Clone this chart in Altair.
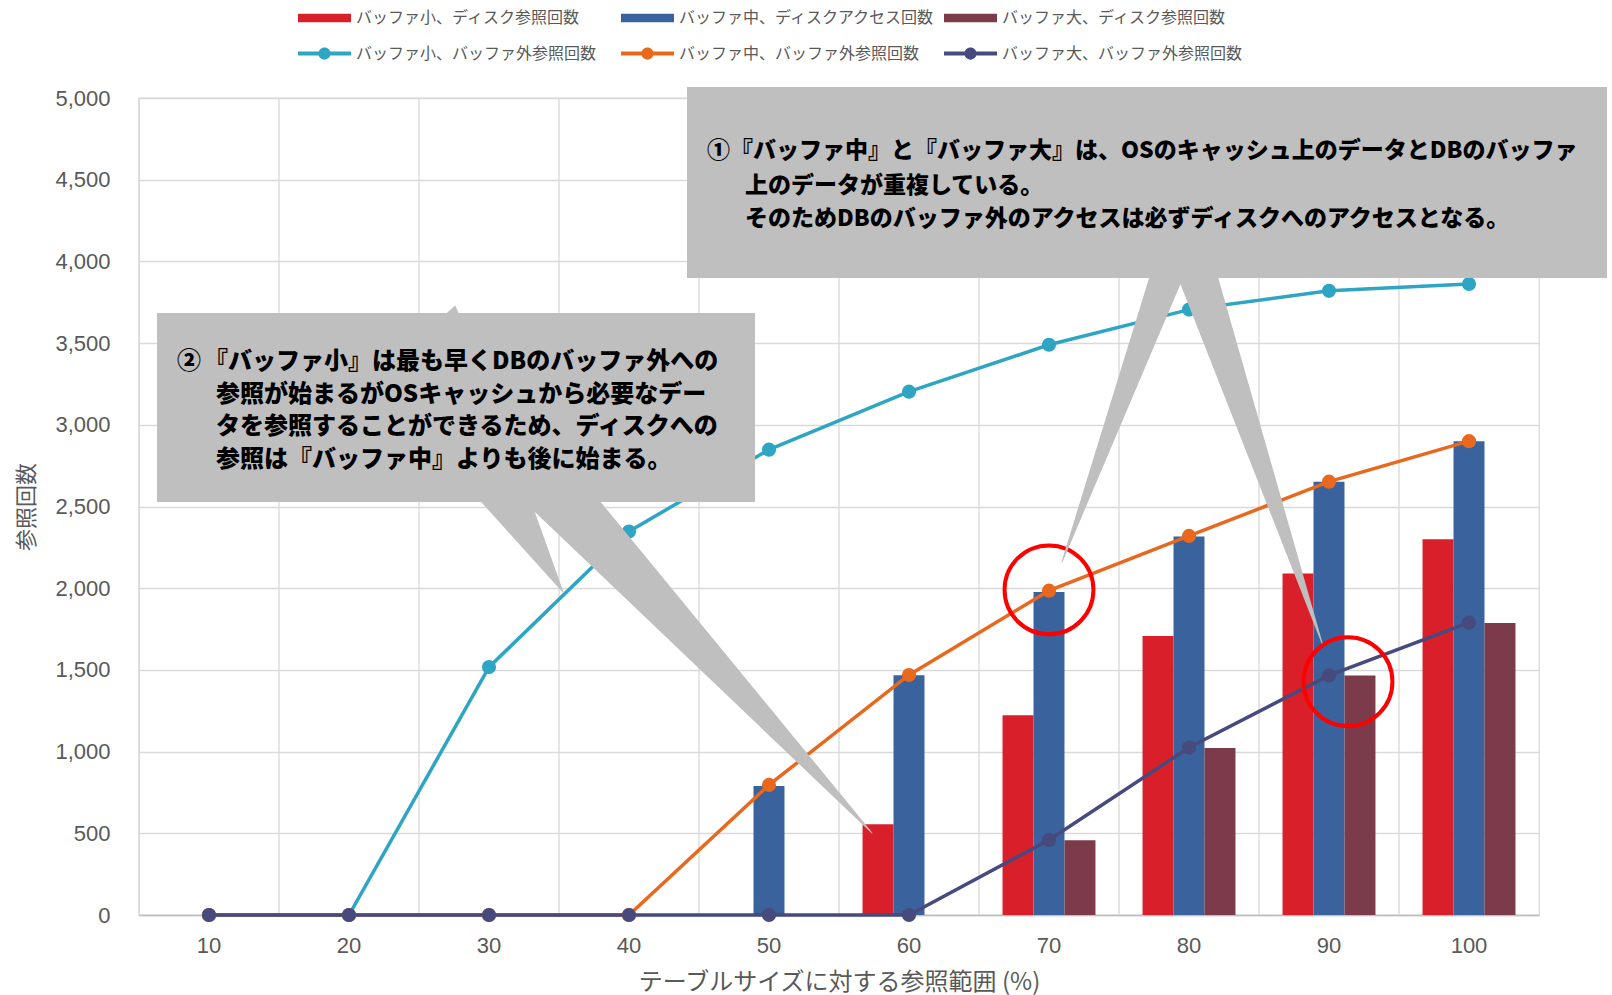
import altair as alt
import pandas as pd

# ---------------- data ----------------
cats = ["10", "20", "30", "40", "50", "60", "70", "80", "90", "100"]

bar_series = ["バッファ小、ディスク参照回数", "バッファ中、ディスクアクセス回数", "バッファ大、ディスク参照回数"]
bar_colors = ["#d9202a", "#3a629c", "#7b3b4b"]
disk_small = [0, 0, 0, 0, 0, 555, 1222, 1708, 2090, 2300]
disk_mid = [0, 0, 0, 0, 790, 1467, 1977, 2317, 2652, 2900]
disk_large = [0, 0, 0, 0, 0, 0, 458, 1022, 1465, 1787]

line_series = ["バッファ小、バッファ外参照回数", "バッファ中、バッファ外参照回数", "バッファ大、バッファ外参照回数"]
line_colors = ["#2ea5c3", "#e8681d", "#464a7c"]
out_small = [0, 0, 1517, 2347, 2848, 3203, 3490, 3705, 3820, 3862]
out_mid = [0, 0, 0, 0, 796, 1469, 1985, 2320, 2652, 2900]
out_large = [0, 0, 0, 0, 0, 0, 459, 1025, 1466, 1789]

y_ticks = [0, 500, 1000, 1500, 2000, 2500, 3000, 3500, 4000, 4500, 5000]

# annotation rings (category, value)
ring_cats = ["70", "90"]
ring_vals = [1990, 1428]

# callout texts
c1_texts = ["①", "『バッファ中』と『バッファ大』は、OSのキャッシュ上のデータとDBのバッファ",
            "上のデータが重複している。",
            "そのためDBのバッファ外のアクセスは必ずディスクへのアクセスとなる。"]
c2_texts = ["②", "『バッファ小』は最も早くDBのバッファ外への",
            "参照が始まるがOSキャッシュから必要なデー",
            "タを参照することができるため、ディスクへの",
            "参照は『バッファ中』よりも後に始まる。"]

# ---------------- layout (pixels, relative to plot origin) ----------------
W, H = 1400, 817
box_x1 = [548, 18]
box_x2 = [1468, 616]
box_y1 = [-11, 215]
box_y2 = [180, 404]

wedge_base_x = [1037, 1050, 351, 396, 311]
wedge_base_y = [152, 152, 372, 372, 232]
wedge_base_w = [35, 41, 57, 61, 36]
wedge_tip_x = [923, 1183, 424, 733, 316]
wedge_tip_y = [464, 545, 494, 735, 208]

c1_x = [568, 591, 606, 606]
c1_y = [53, 53, 88, 121]
c2_x = [38, 65, 77, 77, 77]
c2_y = [264, 264, 297, 329, 362]

# ---------------- tables ----------------
bars_df = pd.DataFrame([
    {"cat": c, "s": s, "v": v}
    for s, vals in zip(bar_series, [disk_small, disk_mid, disk_large])
    for c, v in zip(cats, vals)
])
lines_df = pd.DataFrame([
    {"cat": c, "s": s, "v": v, "i": i}
    for s, vals in zip(line_series, [out_small, out_mid, out_large])
    for i, (c, v) in enumerate(zip(cats, vals))
])
cats_df = pd.DataFrame({"cat": cats})
boxes_df = pd.DataFrame({"x1": box_x1, "x2": box_x2, "y1": box_y1, "y2": box_y2})
wedge_rows = []
for k in range(len(wedge_base_x)):
    wedge_rows.append({"id": k, "o": 0, "px": wedge_base_x[k], "py": wedge_base_y[k], "w": wedge_base_w[k]})
    wedge_rows.append({"id": k, "o": 1, "px": wedge_tip_x[k], "py": wedge_tip_y[k], "w": 0})
wedges_df = pd.DataFrame(wedge_rows)
text_df = pd.DataFrame(
    [{"t": t, "px": x, "py": y, "fs": 23} for t, x, y in zip(c1_texts, c1_x, c1_y)] +
    [{"t": t, "px": x, "py": y, "fs": 24} for t, x, y in zip(c2_texts, c2_x, c2_y)]
)

# ---------------- encodings ----------------
GRAY = "#595959"
xscale = alt.Scale(type="band", domain=cats, paddingInner=0, paddingOuter=0)
xaxis = alt.Axis(
    title="テーブルサイズに対する参照範囲 (%)", grid=False, ticks=False, tickSize=0,
    domainColor="#bfbfbf", domainWidth=1.5, labelFont="Liberation Sans", labelFontSize=22,
    labelColor=GRAY, labelPadding=20, labelAngle=0, titleFont="Noto Sans CJK JP",
    titleFontSize=24, titleFontWeight="normal", titleColor=GRAY, titlePadding=14,
)
X = alt.X("cat:N", scale=xscale, axis=xaxis)
yscale = alt.Scale(domain=[0, 5000], nice=False)
yaxis = alt.Axis(
    title="参照回数", values=y_ticks, format=",.0f", grid=True, gridColor="#d9d9d9", gridWidth=1.3,
    domain=False, ticks=False, tickSize=0, labelFont="Liberation Sans", labelFontSize=22,
    labelColor=GRAY, labelPadding=29, titleFont="Noto Sans CJK JP", titleFontSize=22,
    titleFontWeight="normal", titleColor=GRAY, titlePadding=16,
)
Y = alt.Y("v:Q", scale=yscale, axis=yaxis)

bar_path = "M-1,-0.16H1V0.16H-1Z"
line_path = "M-1,-0.075H1V0.075H-1Z M0.23,0A0.23,0.23,0,1,1,-0.23,0A0.23,0.23,0,1,1,0.23,0Z"

def mk_legend(path, y, colpad):
    return alt.Legend(
        title=None, orient="none", legendX=159, legendY=y, direction="horizontal", columns=3,
        gridAlign="all", columnPadding=colpad, rowPadding=0, padding=0, symbolType=path,
        symbolSize=2809, symbolStrokeWidth=0, symbolOpacity=1, labelFont="Noto Sans CJK JP",
        labelFontSize=16, labelColor=GRAY, labelLimit=600, labelOffset=5,
    )

grid = alt.Chart(cats_df).mark_rule(color="#d9d9d9", strokeWidth=1.3).encode(
    x=alt.X("cat:N", scale=xscale, axis=xaxis, bandPosition=0)
)

bars = alt.Chart(bars_df).transform_filter("datum.v > 0").mark_bar(opacity=1).encode(
    x=X,
    xOffset=alt.XOffset("s:N", scale=alt.Scale(domain=bar_series, paddingOuter=0.76, paddingInner=0)),
    y=Y,
    fill=alt.Fill("s:N", scale=alt.Scale(domain=bar_series, range=bar_colors),
                  legend=mk_legend(bar_path, -106.8, 8)),
)

lines = alt.Chart(lines_df).mark_line(strokeWidth=3.5).encode(
    x=X, y=Y, order=alt.Order("i:Q"),
    stroke=alt.Stroke("s:N", scale=alt.Scale(domain=line_series, range=line_colors), legend=None),
)

points = alt.Chart(lines_df).mark_circle(size=200, opacity=1).encode(
    x=X, y=Y,
    color=alt.Color("s:N", scale=alt.Scale(domain=line_series, range=line_colors),
                    legend=mk_legend(line_path, -71.2, 24)),
)

ring1 = alt.Chart(pd.DataFrame({"cat": ring_cats[:1], "v": ring_vals[:1]})).mark_point(
    shape="circle", filled=False, size=7900, strokeWidth=4, color="#ff0000", opacity=1
).encode(x=X, y=Y)
ring2 = alt.Chart(pd.DataFrame({"cat": ring_cats[1:], "v": ring_vals[1:]})).mark_point(
    shape="circle", filled=False, size=7900, strokeWidth=4, color="#ff0000", opacity=1, xOffset=19
).encode(x=X, y=Y)

wedges = alt.Chart(wedges_df).mark_trail(color="#bfbfbf", opacity=1).encode(
    x=alt.X("px:Q", scale=None),
    y=alt.Y("py:Q", scale=None),
    size=alt.Size("w:Q", scale=None, legend=None),
    detail="id:N",
    order=alt.Order("o:Q"),
)

boxes = alt.Chart(boxes_df).mark_rect(color="#bfbfbf", opacity=1).encode(
    x=alt.X("x1:Q", scale=None), x2="x2:Q",
    y=alt.Y("y1:Q", scale=None), y2="y2:Q",
)

texts = alt.Chart(text_df).mark_text(
    align="left", baseline="middle", font="Noto Sans CJK JP", fontWeight=900, color="#000000"
).encode(
    x=alt.X("px:Q", scale=None),
    y=alt.Y("py:Q", scale=None),
    size=alt.Size("fs:Q", scale=None, legend=None),
    text="t:N",
)

chart = alt.layer(grid, bars, lines, points, ring1, ring2, wedges, boxes, texts).resolve_scale(
    fill="independent", color="independent", stroke="independent"
).properties(
    width=W, height=H,
    autosize=alt.AutoSizeParams(type="none"),
    padding={"left": 139, "top": 98, "right": 73, "bottom": 80},
    background="#ffffff",
).configure_view(stroke="#d9d9d9", strokeWidth=1.3)

chart.save("out.html", embed_options={"renderer": "svg", "actions": False})
